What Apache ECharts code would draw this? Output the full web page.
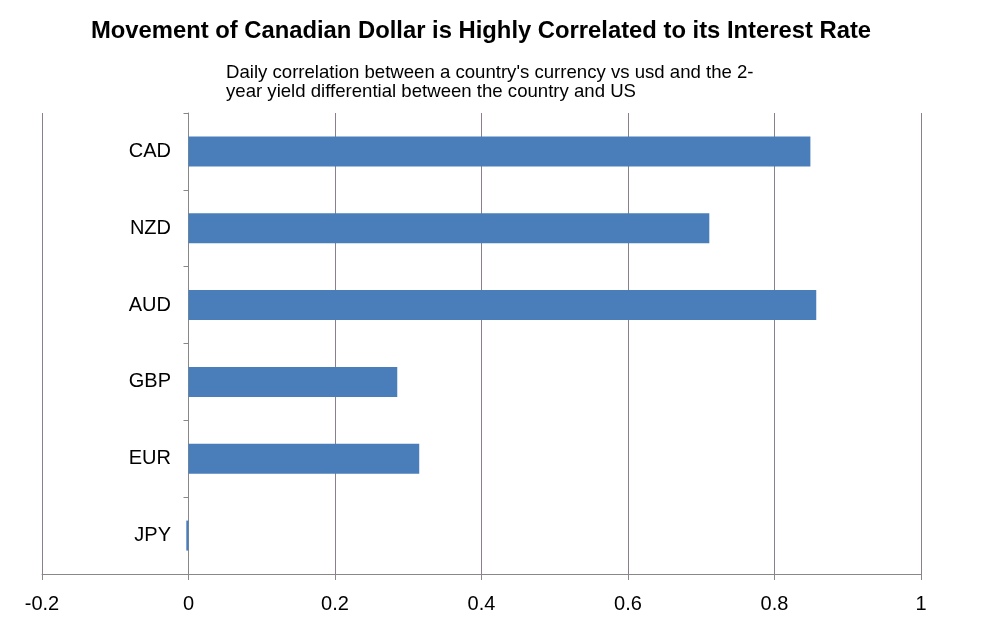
<!DOCTYPE html>
<html><head><meta charset="utf-8">
<script src="https://cdn.jsdelivr.net/npm/echarts@6/dist/echarts.min.js"></script>
<style>html,body{margin:0;padding:0;background:#fff}#c{width:983px;height:632px}</style>
</head><body><div id="c"></div>
<script>
const categories = ['CAD', 'NZD', 'AUD', 'GBP', 'EUR', 'JPY'];
const correlation = [0.849, 0.711, 0.857, 0.285, 0.315, -0.003];
const xTicks = { min: -0.2, max: 1, interval: 0.2 };
const titleText = 'Movement of Canadian Dollar is Highly Correlated to its Interest Rate';
const subtitleText = "Daily correlation between a country's currency vs usd and the 2-\nyear yield differential between the country and US";

const chart = echarts.init(document.getElementById('c'));
chart.setOption({
  animation: false,
  backgroundColor: '#fff',
  title: [
    { text: titleText, left: 476, textAlign: 'center', top: 14,
      textStyle: { fontFamily: 'Liberation Sans', fontSize: 23.8, fontWeight: 'bold', color: '#000' } },
    { text: subtitleText, left: 221, top: 58,
      textStyle: { fontFamily: 'Liberation Sans', fontSize: 18.6, fontWeight: 'normal', color: '#000', lineHeight: 19 } }
  ],
  grid: { left: 42, right: 62, top: 113, bottom: 58, containLabel: false, outerBoundsMode: 'none' },
  xAxis: {
    type: 'value', min: xTicks.min, max: xTicks.max, interval: xTicks.interval,
    axisLine: { show: true, lineStyle: { color: '#888' } },
    axisTick: { show: true, length: 6, lineStyle: { color: '#888' } },
    splitLine: { show: true, lineStyle: { color: '#8a7f8c', width: 1 } },
    axisLabel: { color: '#000', fontFamily: 'Liberation Sans', fontSize: 20, margin: 20 }
  },
  yAxis: {
    type: 'category', data: categories, inverse: true,
    axisLine: { show: true, onZero: true, lineStyle: { color: '#888' } },
    axisTick: { show: true, length: 5, lineStyle: { color: '#888' } },
    axisLabel: { color: '#000', fontFamily: 'Liberation Sans', fontSize: 20, margin: -129, padding: [5, 0, 0, 0] }
  },
  series: [{
    type: 'bar', data: correlation, barWidth: 30,
    itemStyle: { color: '#4a7ebb' }
  }]
});
</script></body></html>
